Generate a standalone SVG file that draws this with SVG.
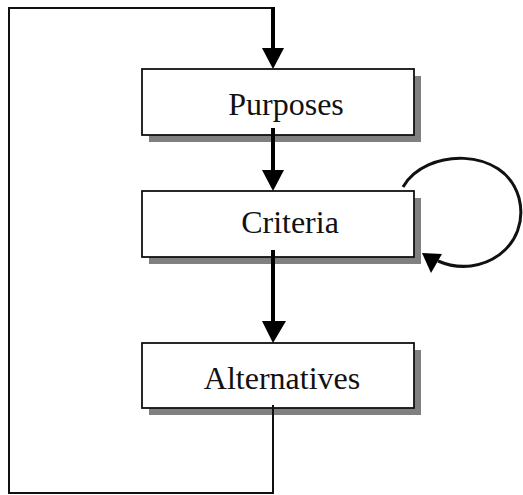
<svg xmlns="http://www.w3.org/2000/svg" width="523" height="495" viewBox="0 0 523 495">
<defs>
<style>
.shadow{fill:#808080;stroke:none}
.box{fill:#fff;stroke:#111;stroke-width:1.8}
.label{font-family:"Liberation Serif","Times New Roman",serif;font-size:32px;fill:#111;text-anchor:middle}
.thin{fill:none;stroke:#111;stroke-width:2}
.thick{fill:none;stroke:#000;stroke-width:4}
.head{fill:#000;stroke:none}
</style>
</defs>
<rect width="523" height="495" fill="#fff"/>
<g id="purposes">
<rect class="shadow" x="149" y="76" width="272" height="66"/>
<rect class="box" x="142" y="69" width="272" height="66"/>
<text class="label" x="286" y="115">Purposes</text>
</g>
<g id="criteria">
<rect class="shadow" x="149" y="198" width="272" height="66"/>
<rect class="box" x="142" y="191" width="272" height="66"/>
<text class="label" x="290" y="233">Criteria</text>
</g>
<g id="alternatives">
<rect class="shadow" x="149" y="350" width="272" height="65"/>
<rect class="box" x="142" y="343" width="272" height="65"/>
<text class="label" x="282" y="389">Alternatives</text>
</g>
<g id="connectors">
<polyline class="thin" points="273,405 273,493 9,493 9,8 273,8"/>
<line class="thick" x1="273" y1="7" x2="273" y2="50"/>
<polygon class="head" points="262,48 284,48 273,69"/>
<line class="thick" x1="273" y1="128" x2="273" y2="172"/>
<polygon class="head" points="262,170 284,170 273,191"/>
<line class="thick" x1="273" y1="250" x2="273" y2="323"/>
<polygon class="head" points="262,321 286,321 273,343"/>
<path class="thin" style="stroke-width:3" d="M403,187 C425,148 505,146 519,198 C531,246 482,280 438,261"/>
<polygon class="head" points="422,253 442,254 431,273"/>
</g>
</svg>
